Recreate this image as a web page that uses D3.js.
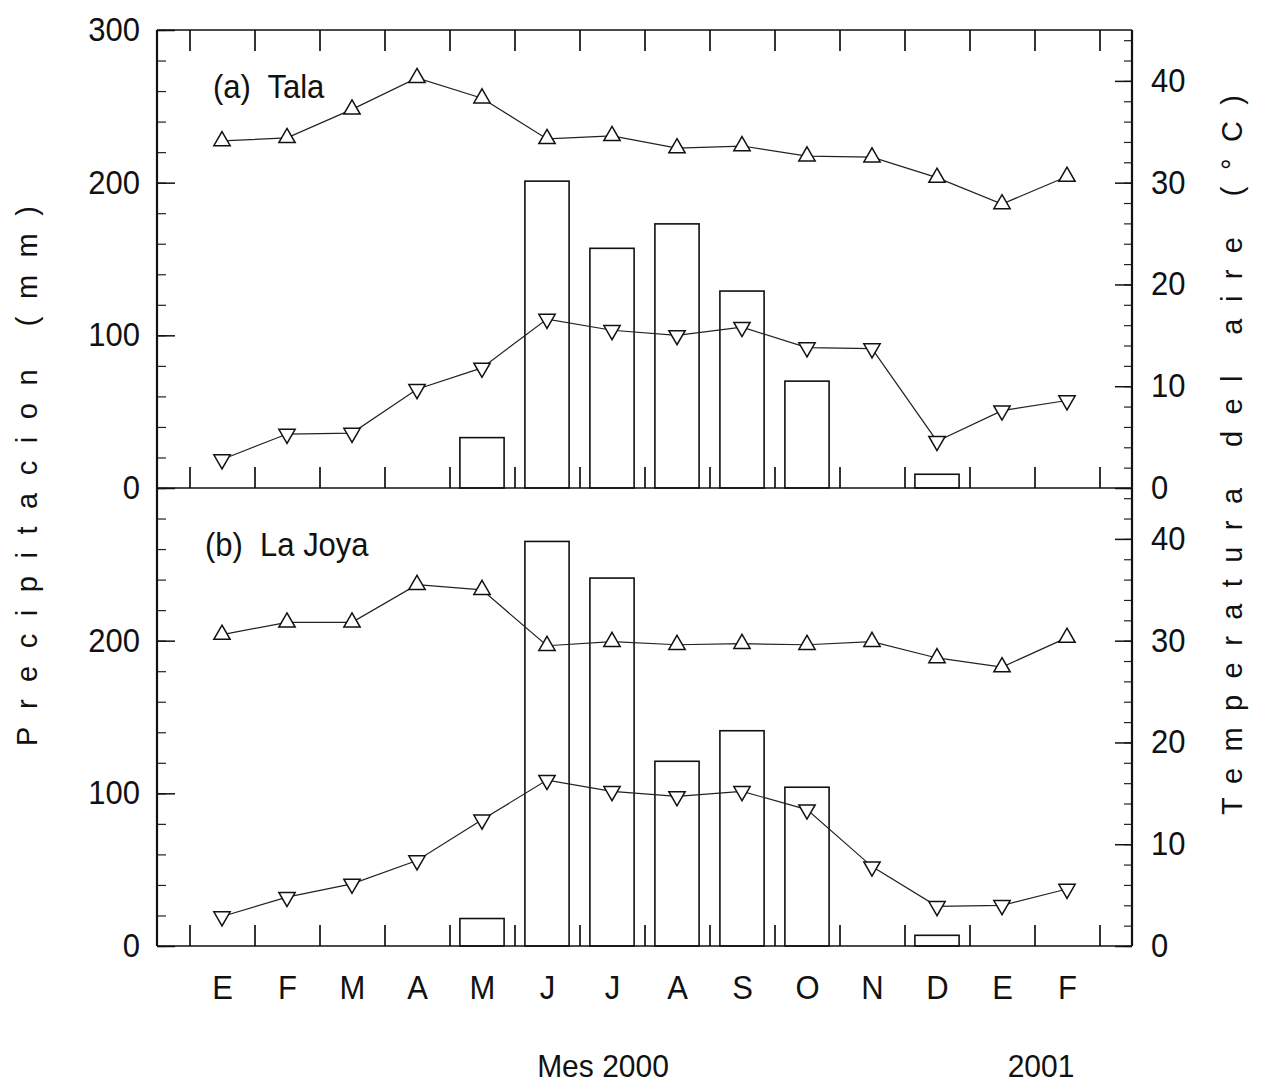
<!DOCTYPE html>
<html>
<head>
<meta charset="utf-8">
<script src="https://cdn.jsdelivr.net/npm/d3@7"></script>
<style>
  body { margin: 0; background: #fff; }
  svg { display: block; }
  text { font-family: "Liberation Sans", Arial, Helvetica, sans-serif; fill: #111; }
</style>
</head>
<body>
<svg id="chart" width="1261" height="1084"></svg>
<script>
// Months from January 2000 to February 2001
const months = ["E", "F", "M", "A", "M", "J", "J", "A", "S", "O", "N", "D", "E", "F"];

// (a) Tala
const talaPrecip = [0, 0, 0, 0, 33, 201, 157, 173, 129, 70, 0, 9, 0, 0];
const talaTmax   = [34.1, 34.4, 37.2, 40.3, 38.3, 34.3, 34.6, 33.4, 33.6, 32.6, 32.5, 30.5, 27.9, 30.6];
const talaTmin   = [2.8, 5.3, 5.4, 9.7, 11.8, 16.6, 15.5, 15.0, 15.8, 13.8, 13.7, 4.6, 7.6, 8.6];

// (b) La Joya
const joyaPrecip = [0, 0, 0, 0, 18, 265, 241, 121, 141, 104, 0, 7, 0, 0];
const joyaTmax   = [30.6, 31.8, 31.8, 35.5, 35.0, 29.5, 29.9, 29.6, 29.7, 29.6, 29.9, 28.3, 27.4, 30.3];
const joyaTmin   = [2.9, 4.8, 6.1, 8.4, 12.4, 16.3, 15.2, 14.7, 15.2, 13.4, 7.8, 3.9, 4.0, 5.6];

// Axis ticks
const precipTicksTop = [0, 100, 200, 300];
const precipTicksBottom = [0, 100, 200];
const tempTicks = [0, 10, 20, 30, 40];

const panels = [
  { label: "(a)  Tala",    precip: talaPrecip, tmax: talaTmax, tmin: talaTmin, pTicks: precipTicksTop },
  { label: "(b)  La Joya", precip: joyaPrecip, tmax: joyaTmax, tmin: joyaTmin, pTicks: precipTicksBottom }
];

const svg = d3.select("#chart");
const left = 157, right = 1132;
const firstTop = 30, panelH = 458;
const bottom = firstTop + 2 * panelH;
const STRETCH = 1.05;   // glyphs are drawn slightly taller than wide
const FS = 31;

const x = d3.scaleLinear().domain([-1, 14]).range([left, right]);
const barW = x(0.34) - x(-0.34);
const monthIdx = d3.range(months.length);
const boundaries = d3.range(months.length + 1).map(i => i - 0.5);

function stretchText(sel) {
  sel.each(function () {
    const t = d3.select(this);
    const yv = +t.attr("y") || 0;
    t.attr("y", yv / STRETCH).attr("transform", `scale(1,${STRETCH})`);
  });
}

panels.forEach((p, k) => {
  const top = firstTop + k * panelH;
  const base = top + panelH;
  const yP = d3.scaleLinear().domain([0, 300]).range([base, top]);
  const yT = d3.scaleLinear().domain([0, 45]).range([base, top]);
  const g = svg.append("g");

  // precipitation bars (open)
  g.selectAll("rect.bar")
    .data(p.precip.map((v, i) => ({ v, i })).filter(d => d.v > 0))
    .join("rect")
    .attr("class", "bar")
    .attr("x", d => x(d.i) - barW / 2)
    .attr("y", d => yP(d.v))
    .attr("width", barW)
    .attr("height", d => yP(0) - yP(d.v))
    .attr("fill", "none")
    .attr("stroke", "#111")
    .attr("stroke-width", 1.6);

  // month boundary ticks rising from the baseline
  const xb = d3.axisBottom(x).tickValues(boundaries).tickSize(-21).tickFormat("");
  const gb = g.append("g").attr("transform", `translate(0,${base})`).call(xb);
  gb.select(".domain").remove();
  gb.selectAll("line").attr("stroke", "#111").attr("stroke-width", 1.7);

  if (k === 0) {
    const xt = d3.axisTop(x).tickValues(boundaries).tickSize(-21).tickFormat("");
    const gt = g.append("g").attr("transform", `translate(0,${top})`).call(xt);
    gt.select(".domain").remove();
    gt.selectAll("line").attr("stroke", "#111").attr("stroke-width", 1.7);
  }

  // left axis: minor then major ticks
  const lMinor = d3.axisLeft(yP).tickValues(d3.range(0, 301, 20)).tickSize(-9).tickFormat("");
  const glm = g.append("g").attr("transform", `translate(${left},0)`).call(lMinor);
  glm.select(".domain").remove();
  glm.selectAll("line").attr("stroke", "#222").attr("stroke-width", 1.2);

  const lMajor = d3.axisLeft(yP).tickValues(p.pTicks).tickSize(-18).tickPadding(17).tickFormat(d3.format("d"));
  const gl = g.append("g").attr("transform", `translate(${left},0)`).call(lMajor);
  gl.select(".domain").remove();
  gl.selectAll("line").attr("stroke", "#111").attr("stroke-width", 1.5);
  gl.selectAll("text").attr("font-size", FS).attr("fill", "#111")
    .style("font-family", '"Liberation Sans", Arial, sans-serif').call(stretchText);

  // right axis: temperature
  const rMinor = d3.axisRight(yT).tickValues(d3.range(0, 45, 2)).tickSize(-8).tickFormat("");
  const grm = g.append("g").attr("transform", `translate(${right},0)`).call(rMinor);
  grm.select(".domain").remove();
  grm.selectAll("line").attr("stroke", "#222").attr("stroke-width", 1.2);

  const rMajor = d3.axisRight(yT).tickValues(tempTicks).tickSize(-17).tickPadding(19).tickFormat(d3.format("d"));
  const gr = g.append("g").attr("transform", `translate(${right},0)`).call(rMajor);
  gr.select(".domain").remove();
  gr.selectAll("line").attr("stroke", "#111").attr("stroke-width", 1.5);
  gr.selectAll("text").attr("font-size", FS).attr("fill", "#111")
    .style("font-family", '"Liberation Sans", Arial, sans-serif').call(stretchText);

  // temperature lines
  const line = d3.line().x((d, i) => x(i)).y(d => yT(d));
  [p.tmax, p.tmin].forEach(series => {
    g.append("path").datum(series)
      .attr("d", line)
      .attr("fill", "none")
      .attr("stroke", "#222")
      .attr("stroke-width", 1.2);
  });

  // markers: open up-triangles for maximum, open down-triangles for minimum
  const tri = d3.symbol().type(d3.symbolTriangle).size(115);
  g.selectAll("path.tmax").data(p.tmax).join("path")
    .attr("class", "tmax")
    .attr("d", tri)
    .attr("transform", (d, i) => `translate(${x(i)},${yT(d)})`)
    .attr("fill", "#fff").attr("stroke", "#111").attr("stroke-width", 1.5);
  g.selectAll("path.tmin").data(p.tmin).join("path")
    .attr("class", "tmin")
    .attr("d", tri)
    .attr("transform", (d, i) => `translate(${x(i)},${yT(d)}) rotate(180)`)
    .attr("fill", "#fff").attr("stroke", "#111").attr("stroke-width", 1.5);

  // panel label
  g.append("text")
    .attr("x", k === 0 ? 213 : 205)
    .attr("y", (top + 68) / STRETCH)
    .attr("transform", `scale(1,${STRETCH})`)
    .attr("font-size", FS)
    .style("white-space", "pre")
    .attr("xml:space", "preserve")
    .text(p.label);
});

// frame
const frame = svg.append("g").attr("stroke", "#111").attr("fill", "none");
frame.append("line").attr("x1", left).attr("x2", left).attr("y1", firstTop).attr("y2", bottom).attr("stroke-width", 2.2);
frame.append("line").attr("x1", right).attr("x2", right).attr("y1", firstTop).attr("y2", bottom).attr("stroke-width", 2.2);
[firstTop, firstTop + panelH, bottom].forEach(yy => {
  frame.append("line").attr("x1", left).attr("x2", right).attr("y1", yy).attr("y2", yy).attr("stroke-width", 1.6);
});

// month labels
const xm = d3.axisBottom(x).tickValues(monthIdx).tickSize(0).tickPadding(30).tickFormat(i => months[i]);
const gm = svg.append("g").attr("transform", `translate(0,${bottom})`).call(xm);
gm.select(".domain").remove();
gm.selectAll("text").attr("font-size", FS).attr("fill", "#111")
  .style("font-family", '"Liberation Sans", Arial, sans-serif').call(stretchText);

// x titles
svg.append("text").attr("x", 603).attr("y", 1077 / STRETCH)
  .attr("transform", `scale(1,${STRETCH})`).attr("text-anchor", "middle")
  .attr("font-size", 30).text("Mes 2000");
svg.append("text").attr("x", 1041).attr("y", 1077 / STRETCH)
  .attr("transform", `scale(1,${STRETCH})`).attr("text-anchor", "middle")
  .attr("font-size", 30).text("2001");

// y titles (letter-spaced)
svg.append("text")
  .attr("transform", "translate(27,476) rotate(-90)")
  .attr("text-anchor", "middle").attr("dy", "0.36em")
  .attr("font-size", 29)
  .attr("textLength", 540).attr("lengthAdjust", "spacing")
  .text("Precipitacion (mm)");
svg.append("text")
  .attr("transform", "translate(1232,455) rotate(-90)")
  .attr("text-anchor", "middle").attr("dy", "0.36em")
  .attr("font-size", 29)
  .attr("textLength", 720).attr("lengthAdjust", "spacing")
  .text("Temperatura del aire (°C)");
</script>
</body>
</html>
